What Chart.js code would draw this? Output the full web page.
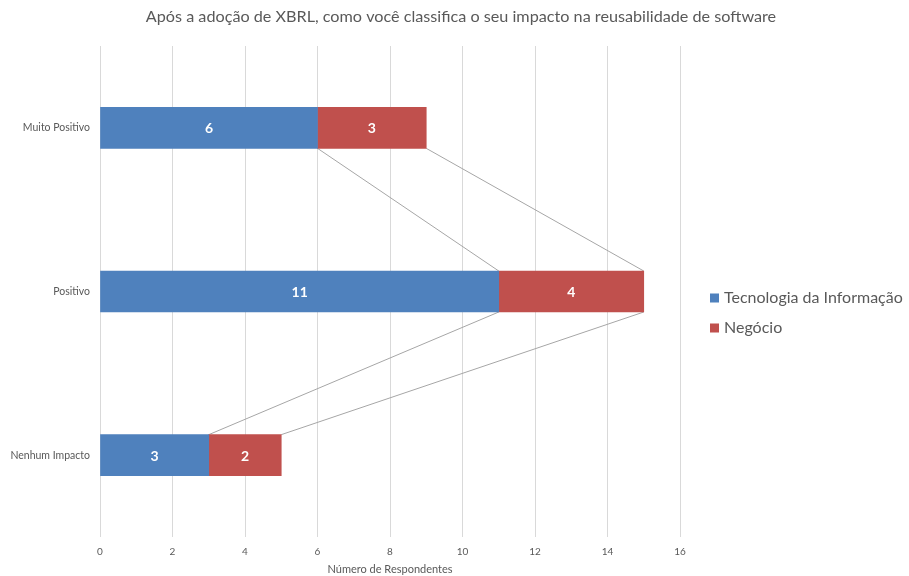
<!DOCTYPE html>
<html>
<head>
<meta charset="utf-8">
<script src="https://cdn.jsdelivr.net/npm/chart.js@4/dist/chart.umd.min.js"></script>
<style>
  html, body { margin: 0; padding: 0; background: #ffffff; }
  #wrap { width: 909px; height: 576px; }
</style>
</head>
<body>
<div id="wrap"><canvas id="chart" width="909" height="576"></canvas></div>
<script>
// Survey answers: impact of XBRL on software reusability
const chartTitle = 'Após a adoção de XBRL, como você classifica o seu impacto na reusabilidade de software';
const categories = ['Muito Positivo', 'Positivo', 'Nenhum Impacto'];
const seriesNames = ['Tecnologia da Informação', 'Negócio'];
const tiValues = [6, 11, 3];
const negocioValues = [3, 4, 2];
const xTicks = [0, 2, 4, 6, 8, 10, 12, 14, 16];

const COLORS = ['#4F81BD', '#C0504D'];
const TEXT = '#595959';
const FONT = 'Lato, "Open Sans", sans-serif';

// Heading centred over the whole canvas
const heading = {
  id: 'heading',
  afterDraw(chart) {
    const ctx = chart.ctx;
    ctx.save();
    ctx.fillStyle = TEXT;
    ctx.font = '16.2px ' + FONT;
    ctx.textAlign = 'center';
    ctx.textBaseline = 'middle';
    ctx.fillText(chartTitle, 461, 17);
    ctx.restore();
  }
};

// White value labels centred inside each bar segment
const valueLabels = {
  id: 'valueLabels',
  afterDatasetsDraw(chart) {
    const ctx = chart.ctx;
    ctx.save();
    ctx.fillStyle = '#ffffff';
    ctx.font = 'bold 14px ' + FONT;
    ctx.textAlign = 'center';
    ctx.textBaseline = 'middle';
    chart.data.datasets.forEach((ds, d) => {
      const meta = chart.getDatasetMeta(d);
      meta.data.forEach((el, i) => {
        const p = el.getProps(['x', 'y', 'base'], true);
        ctx.fillText(String(ds.data[i]), (p.x + p.base) / 2, p.y + 1);
      });
    });
    ctx.restore();
  }
};

// Connector lines between the segment ends of neighbouring bars
const seriesLines = {
  id: 'seriesLines',
  beforeDatasetsDraw(chart) {
    const ctx = chart.ctx;
    ctx.save();
    ctx.strokeStyle = '#a6a6a6';
    ctx.lineWidth = 1;
    chart.data.datasets.forEach((ds, d) => {
      const els = chart.getDatasetMeta(d).data;
      for (let i = 0; i < els.length - 1; i++) {
        const a = els[i].getProps(['x', 'y', 'height'], true);
        const b = els[i + 1].getProps(['x', 'y', 'height'], true);
        ctx.beginPath();
        ctx.moveTo(a.x, a.y + a.height / 2);
        ctx.lineTo(b.x, b.y - b.height / 2);
        ctx.stroke();
      }
    });
    ctx.restore();
  }
};

// Legend drawn to the right of the plot area
const sideLegend = {
  id: 'sideLegend',
  afterDraw(chart) {
    const ctx = chart.ctx;
    const area = chart.chartArea;
    ctx.save();
    ctx.font = '16px ' + FONT;
    ctx.textBaseline = 'middle';
    ctx.textAlign = 'left';
    const x0 = area.right + 30;
    const yMid = (area.top + area.bottom) / 2;
    chart.data.datasets.forEach((ds, d) => {
      const y = yMid + 6 + d * 30;
      ctx.fillStyle = ds.backgroundColor;
      ctx.fillRect(x0, y - 4, 9, 9);
      ctx.fillStyle = TEXT;
      ctx.fillText(ds.label, x0 + 14, y);
    });
    ctx.restore();
  }
};

new Chart(document.getElementById('chart'), {
  type: 'bar',
  data: {
    labels: categories,
    datasets: [
      { label: seriesNames[0], data: tiValues, backgroundColor: COLORS[0], barThickness: 41 },
      { label: seriesNames[1], data: negocioValues, backgroundColor: COLORS[1], barThickness: 41 }
    ]
  },
  options: {
    indexAxis: 'y',
    responsive: false,
    animation: false,
    devicePixelRatio: 1,
    layout: { padding: { left: 0, right: 229, top: 46, bottom: 0 } },
    plugins: {
      legend: { display: false },
      tooltip: { enabled: false },
      title: { display: false }
    },
    scales: {
      x: {
        stacked: true,
        min: 0,
        max: 16,
        afterBuildTicks(scale) { scale.ticks = xTicks.map(v => ({ value: v })); },
        grid: { color: '#d9d9d9', drawTicks: false },
        border: { display: false },
        ticks: { color: TEXT, font: { family: FONT, size: 10 }, padding: 9 },
        title: {
          display: true,
          text: 'Número de Respondentes',
          color: TEXT,
          font: { family: FONT, size: 11 },
          padding: { top: 2, bottom: 0 }
        },
        afterFit(scale) { scale.height = 39; }
      },
      y: {
        stacked: true,
        grid: { display: false, drawTicks: false },
        border: { display: false },
        ticks: { color: TEXT, font: { family: FONT, size: 10.5 }, padding: 10 },
        afterFit(scale) { scale.width = 100; }
      }
    }
  },
  plugins: [seriesLines, valueLabels, sideLegend, heading]
});
</script>
</body>
</html>
